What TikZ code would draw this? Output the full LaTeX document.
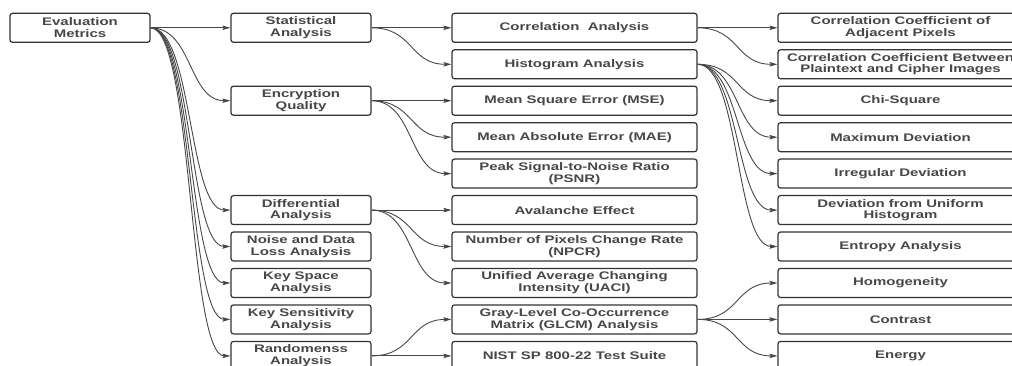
\documentclass[tikz,border=0pt]{standalone}
\usepackage{fontspec}
\newfontfamily\boxfont[FakeStretch=1.36]{Liberation Sans}
\usepackage{tikz}
\usetikzlibrary{positioning, arrows.meta}

\begin{document}
\begin{tikzpicture}
    [
      x=1pt, y=-1pt,
      Box/.style={rectangle, draw=black!80, fill=white, line width=1.2pt, rounded corners=2.5pt,
        minimum width=140pt, minimum height=29pt, inner sep=1pt, align=center,
        text=black!72, font=\boxfont\bfseries\fontsize{11}{11.7}\selectfont},
      Wide/.style={Box, minimum width=245pt},
      Arrow/.style={draw=black!72, line width=0.9pt, -{Stealth[length=8pt, width=4.5pt, inset=1.5pt]}},
      Curve/.style={Arrow, to path={.. controls +(42,0) and +(-42,0) .. (\tikztotarget)}},
    ]
    \useasboundingbox (0,0) rectangle (1012,366);
    \clip (0,0) rectangle (1012,366);

    % Nodes
    \node[Box] (em) at (80, 27.8) {Evaluation\\Metrics};

    \node[Box] (stat) at (301, 27.8) {Statistical\\Analysis};
    \node[Box] (enc) at (301, 100.7) {Encryption\\Quality};
    \node[Box] (diff) at (301, 210.1) {Differential\\Analysis};
    \node[Box] (noise) at (301, 246.5) {Noise and Data\\Loss Analysis};
    \node[Box] (kspace) at (301, 283.0) {Key Space\\Analysis};
    \node[Box] (ksens) at (301, 319.4) {Key Sensitivity\\Analysis};
    \node[Box] (rand) at (301, 355.9) {Randomenss\\Analysis};

    \node[Wide] (corr) at (574.5, 27.8) {Correlation~~Analysis};
    \node[Wide] (hist) at (574.5, 64.3) {Histogram Analysis};
    \node[Wide] (mse) at (574.5, 100.7) {Mean Square Error (MSE)};
    \node[Wide] (mae) at (574.5, 137.2) {Mean Absolute Error (MAE)};
    \node[Wide] (psnr) at (574.5, 173.6) {Peak Signal-to-Noise Ratio\\(PSNR)};
    \node[Wide] (aval) at (574.5, 210.1) {Avalanche Effect};
    \node[Wide] (npcr) at (574.5, 246.5) {Number of Pixels Change Rate\\(NPCR)};
    \node[Wide] (uaci) at (574.5, 283.0) {Unified Average Changing\\Intensity (UACI)};
    \node[Wide] (glcm) at (574.5, 319.4) {Gray-Level Co-Occurrence\\Matrix (GLCM) Analysis};
    \node[Wide] (nist) at (574.5, 355.9) {NIST SP 800-22 Test Suite};

    \node[Wide] (cca) at (900.5, 27.8) {Correlation Coefficient of\\Adjacent Pixels};
    \node[Wide] (ccb) at (900.5, 64.3) {Correlation Coefficient Between\\Plaintext and Cipher Images};
    \node[Wide] (chi) at (900.5, 100.7) {Chi-Square};
    \node[Wide] (maxd) at (900.5, 137.2) {Maximum Deviation};
    \node[Wide] (irr) at (900.5, 173.6) {Irregular Deviation};
    \node[Wide] (devu) at (900.5, 210.1) {Deviation from Uniform\\Histogram};
    \node[Wide] (ent) at (900.5, 246.5) {Entropy Analysis};
    \node[Wide] (homo) at (900.5, 283.0) {Homogeneity};
    \node[Wide] (contr) at (900.5, 319.4) {Contrast};
    \node[Wide] (energy) at (900.5, 355.9) {Energy};

    % Lines
      \path [Arrow] (em) -- (stat);
      \path [Curve] (em.east) to (enc.west);
      \path [Curve] (em.east) to (diff.west);
      \path [Curve] (em.east) to (noise.west);
      \path [Curve] (em.east) to (kspace.west);
      \path [Curve] (em.east) to (ksens.west);
      \path [Curve] (em.east) to (rand.west);

      \path [Arrow] (stat) -- (corr);
      \path [Curve] (stat.east) to (hist.west);
      \path [Arrow] (enc) -- (mse);
      \path [Curve] (enc.east) to (mae.west);
      \path [Curve] (enc.east) to (psnr.west);
      \path [Arrow] (diff) -- (aval);
      \path [Curve] (diff.east) to (npcr.west);
      \path [Curve] (diff.east) to (uaci.west);
      \path [Curve] (rand.east) to (glcm.west);
      \path [Arrow] (rand) -- (nist);

      \path [Arrow] (corr) -- (cca);
      \path [Curve] (corr.east) to (ccb.west);
      \path [Curve] (hist.east) to (chi.west);
      \path [Curve] (hist.east) to (maxd.west);
      \path [Curve] (hist.east) to (irr.west);
      \path [Curve] (hist.east) to (devu.west);
      \path [Curve] (hist.east) to (ent.west);
      \path [Curve] (glcm.east) to (homo.west);
      \path [Arrow] (glcm) -- (contr);
      \path [Curve] (glcm.east) to (energy.west);

  \end{tikzpicture}
\end{document}
